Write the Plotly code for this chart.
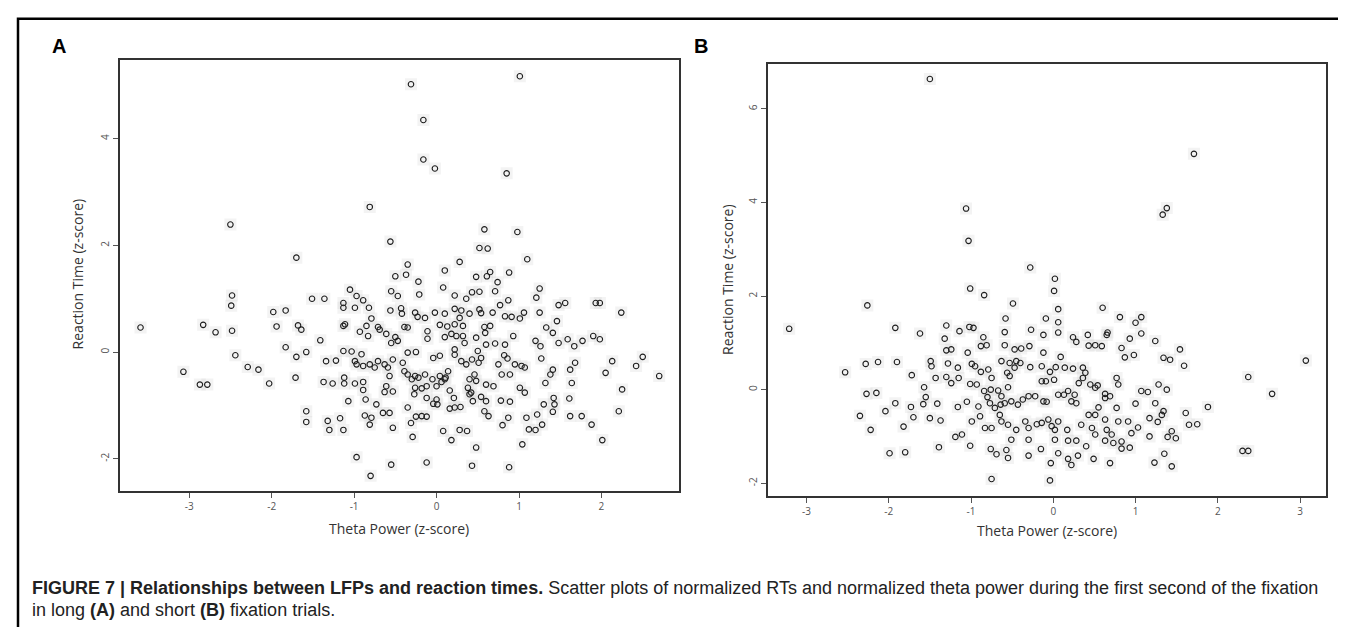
import plotly.graph_objects as go

# panel A: long fixation trials (theta power z, reaction time z)
theta_a = [
    -3.59, -1.70, -2.48, -2.49, -2.83, -2.68, -2.48, -1.98, -1.83, -1.94, -1.68, -1.64, -1.83, -1.70, -1.58,
    -2.44, -2.29, -2.16, -3.07, -2.87, -2.78, -2.03, -1.71, -1.58, -1.58,
    0.58, 0.98, -0.56, 0.52, 0.62, 0.28, -0.35, 0.10, -0.37, -0.50, -0.22, 0.65, 0.61, 0.48, 0.88, 0.74, 0.71,
    1.10, 0.08, 0.43, 0.52, -0.21, 0.22, 0.36, -1.05, -1.51, -1.36, -0.97, -0.89, -0.55, -0.47, -1.13, -1.13,
    -0.99, -0.82, 0.87, 0.77, 1.06, -0.56, -0.43, -0.42, -0.26, -0.23, -0.14, -0.02, 0.10, 0.22, 0.30, 0.28,
    0.40, 0.52, 0.54, 0.68, 0.83, 0.91, 1.01, -0.79, -1.11, -1.13, -0.85, -0.71, -0.69, -0.93, -0.83, -0.61,
    -0.50, -0.55, -0.47, -0.39, -0.35, -0.11, -0.11, 0.04, 0.13, 0.22, 0.32, 0.10, 0.18, 0.24, 0.32, 0.34,
    0.58, 0.65, 0.59, 0.48, 0.93, 0.22, 0.22, -0.25, -0.35, -0.04, 0.04, 0.60, 0.71, 0.83, 0.82, 0.86, 0.50,
    -1.13, -1.03, -0.91, -1.34, -1.22, -0.99, -0.97, -0.89, -0.81, -0.75, -0.71, -0.63, -0.53, -0.41, -0.39,
    -0.35, -0.26, -0.30, -0.22, -0.14, -0.05, 0.04, 0.11, 0.14, 0.30, 0.36, 0.43, 0.51, 0.54, 0.46, 0.40,
    0.48, 0.75, 0.79, 0.89, 0.95, 1.03, 1.07, 0.60, 0.69, 1.01, 1.07, -0.59, -0.57, -1.37, -1.26, -1.12,
    -1.12, -0.99, -0.89, -0.89, -0.61, -0.63, -0.53, -0.26, -0.27, -0.18, -0.12, 0.00, 0.06, 0.10, 0.16,
    0.38, 0.40, 0.42, -0.12, 0.00, 0.01, -0.04, 0.21, 0.22, 0.16, 0.29, 0.44, 0.54, 0.60, 0.78, 0.89, -1.07,
    -0.86, -0.73, -0.35, 0.58, 0.63, -0.65, -0.57, -0.87, -0.79, -0.25, -0.18, -0.12, -1.32, -1.17, -0.81,
    0.87, 1.09, 0.80, -1.30, -1.13, -0.53, -0.31, 0.08, 0.28, 0.37, -0.29, 0.18, 1.04, 0.48, -0.97, -0.55,
    -0.12, 0.43, 0.88, -0.80, -1.41,
    -0.31, 1.01, -0.16, -0.16, -0.02, 0.85, -0.81, -2.50,
    1.25, 1.21, 1.93, 1.98, 1.48, 1.56, 2.24, 1.25, 1.46,
    1.33, 1.41, 1.48, 1.59, 1.77, 1.90, 1.98, 1.67, 1.20, 1.26, 1.27, 1.41, 1.38, 1.62, 1.68, 1.64, 1.32,
    2.13, 2.05, 2.25, 2.21, 2.50, 2.42, 2.70, 1.30, 1.42, 1.43, 1.41, 1.61, 1.62, 1.76, 1.22, 1.28, 1.12,
    1.20, 1.88, 2.01,
]
rt_a = [
    0.46, 1.77, 1.06, 0.87, 0.51, 0.37, 0.40, 0.75, 0.78, 0.48, 0.50, 0.42, 0.09, -0.09, 0.00,
    -0.06, -0.28, -0.33, -0.37, -0.61, -0.61, -0.59, -0.48, -1.11, -1.31,
    2.30, 2.25, 2.07, 1.95, 1.94, 1.69, 1.64, 1.53, 1.45, 1.42, 1.32, 1.50, 1.42, 1.41, 1.49, 1.31, 1.14,
    1.74, 1.21, 1.12, 1.13, 1.08, 1.06, 1.00, 1.17, 1.00, 1.00, 1.05, 0.97, 1.14, 1.05, 0.92, 0.83,
    0.83, 0.83, 0.97, 0.88, 0.74, 0.78, 0.82, 0.72, 0.74, 0.66, 0.64, 0.74, 0.72, 0.81, 0.78, 0.64,
    0.72, 0.80, 0.73, 0.74, 0.67, 0.66, 0.63, 0.63, 0.52, 0.49, 0.49, 0.47, 0.42, 0.38, 0.30, 0.34,
    0.28, 0.17, 0.21, 0.47, 0.46, 0.39, 0.25, 0.51, 0.48, 0.52, 0.49, 0.28, 0.34, 0.30, 0.30, 0.17,
    0.47, 0.49, 0.36, 0.27, 0.30, 0.05, -0.05, 0.00, -0.01, -0.11, -0.07, 0.14, 0.16, 0.14, -0.06, -0.12, 0.02,
    0.02, 0.01, -0.04, -0.17, -0.16, -0.17, -0.23, -0.26, -0.23, -0.29, -0.17, -0.23, -0.14, -0.20, -0.36,
    -0.42, -0.45, -0.51, -0.48, -0.42, -0.51, -0.45, -0.48, -0.36, -0.17, -0.23, -0.14, -0.20, -0.11, -0.42, -0.51,
    -0.54, -0.23, -0.42, -0.42, -0.23, -0.26, -0.29, -0.61, -0.64, -0.67, -0.76, -0.29, -0.45, -0.56, -0.59, -0.48,
    -0.59, -0.59, -0.56, -0.71, -0.64, -0.75, -0.74, -0.67, -0.79, -0.68, -0.64, -0.64, -0.56, -0.51, -0.72,
    -0.67, -0.79, -0.76, -0.86, -0.89, -0.98, -0.97, -0.86, -1.04, -1.06, -1.03, -0.92, -0.84, -0.92, -0.91, -0.93, -0.92,
    -0.89, -0.98, -1.04, -1.11, -1.20, -1.14, -1.14, -1.19, -1.23, -1.21, -1.20, -1.21, -1.29, -1.24, -1.36,
    -1.23, -1.23, -1.37, -1.46, -1.46, -1.42, -1.33, -1.48, -1.46, -1.48, -1.59, -1.65, -1.73, -1.79, -1.97, -2.11,
    -2.07, -2.13, -2.16, -2.32, 0.22,
    5.02, 5.17, 4.35, 3.61, 3.44, 3.35, 2.72, 2.39,
    1.19, 1.02, 0.92, 0.92, 0.88, 0.92, 0.74, 0.74, 0.58,
    0.46, 0.36, 0.17, 0.24, 0.21, 0.30, 0.24, 0.11, 0.21, 0.11, -0.12, -0.33, -0.42, -0.33, -0.20, -0.58, -0.58,
    -0.17, -0.39, -0.70, -1.11, -0.09, -0.26, -0.45, -0.98, -0.86, -0.98, -1.12, -0.87, -1.20, -1.20, -1.17, -1.36, -1.45,
    -1.46, -1.36, -1.65,
]

# panel B: short fixation trials
theta_b = [
    -3.21, -2.26, -1.92, -1.62, -1.30, -1.32, -1.30, -1.24, -1.14, -2.53, -2.28, -2.13, -1.90, -1.49, -1.48,
    -1.28, -1.16, -1.72, -1.43, -1.30, -1.24, -1.15, -1.57, -1.55, -2.27, -2.15, -1.92, -1.73, -1.58, -1.41,
    -1.16, -2.04, -2.35, -1.70, -1.50, -1.37, -2.22, -1.82, -1.19, -1.39, -1.99, -1.80,
    -0.28, 0.02, -1.01, -0.84, 0.01, -0.49, 0.60, 0.06, -0.58, -0.09, 0.06, 0.81, 1.07, 1.00, -1.02, -0.97,
    -0.27, -0.59, -0.12, 0.06, 0.24, 0.28, 0.42, 0.43, 0.51, 0.59, 0.65, 0.66, 0.93, 1.07, 1.24, -0.85,
    -0.88, -0.81, -0.59, -0.47, -0.39, -0.29, -0.12, -1.04, 0.09, 0.83, 0.98, 0.87, 1.34, 1.42, -0.99,
    -0.95, -0.88, -0.79, -0.75, -0.63, -0.53, -0.45, -0.56, -0.53, -0.47, -0.40, -0.28, -0.14, -0.04, 0.03,
    0.14, 0.24, 0.36, 0.39, 0.36, -0.14, -0.09, 0.01, 0.31, 0.45, 0.51, 0.63, 0.54, -1.01, -0.93, -0.84,
    -0.76, -0.80, -0.67, -0.63, -0.55, 0.77, 0.79, 1.07, 1.15, 1.28, 1.38, -0.30, -0.22, -0.12, -0.08,
    0.06, 0.13, 0.18, 0.22, 0.28, 0.26, 0.55, 0.77, 0.63, 0.69, -1.05, -0.91, -0.77, -0.71, -0.64, -0.59,
    -0.51, -0.43, -0.37, 1.00, 1.24, 1.34, 1.32, -0.99, -0.89, -0.83, -0.75, -0.65, -0.63, -0.55, -0.45,
    -0.34, -0.30, -0.20, -0.14, -0.06, -0.02, 0.02, 0.06, 0.17, 0.34, 0.43, 0.51, 0.47, 0.51, 0.63, 0.65,
    0.71, 0.79, 0.91, 0.95, 1.03, 1.17, 1.27, -1.11, -0.51, -0.30, 0.02, 0.18, 0.28, 0.63, 0.73, 0.83,
    0.83, 0.93, 1.17, 1.39, 1.44, -1.01, -0.76, -0.69, -0.57, -0.55, -0.30, -0.15, -0.03, 0.06, 0.18,
    0.22, 0.30, 0.40, 0.49, 0.69, 1.23, 1.35, 1.44, -0.75, -0.04,
    -1.50, 1.71, -1.06, 1.33, 1.38, -1.03, 3.07, 2.37, 2.66, 2.30, 2.37, 1.88, 1.61, 1.65, 1.75, 1.54,
    1.59, 1.49,
]
rt_b = [
    1.30, 1.80, 1.32, 1.20, 1.37, 1.09, 0.84, 0.86, 1.25, 0.37, 0.55, 0.59, 0.59, 0.61, 0.50,
    0.56, 0.47, 0.31, 0.25, 0.27, 0.14, 0.25, 0.05, -0.16, -0.09, -0.07, -0.29, -0.37, -0.31, -0.30,
    -0.37, -0.46, -0.56, -0.59, -0.61, -0.66, -0.86, -0.79, -1.01, -1.23, -1.36, -1.34,
    2.61, 2.37, 2.16, 2.02, 2.11, 1.84, 1.75, 1.72, 1.52, 1.52, 1.44, 1.55, 1.55, 1.43, 1.34, 1.32,
    1.28, 1.23, 1.17, 1.22, 1.12, 1.02, 1.17, 0.94, 0.95, 0.93, 1.17, 1.22, 1.09, 1.20, 1.04, 1.12,
    0.93, 0.95, 0.95, 0.86, 0.88, 0.93, 0.79, 0.79, 0.70, 0.89, 0.74, 0.69, 0.68, 0.64, 0.55,
    0.50, 0.38, 0.43, 0.25, 0.61, 0.57, 0.61, 0.36, 0.29, 0.47, 0.57, 0.48, 0.50, 0.38, 0.48,
    0.47, 0.45, 0.47, 0.36, 0.25, 0.18, 0.18, 0.21, 0.14, 0.11, 0.04, -0.09, 0.09, 0.12, 0.11, -0.03,
    0.00, -0.16, -0.02, -0.14, 0.05, 0.25, 0.11, -0.03, -0.05, 0.11, 0.00, -0.14, -0.14, -0.25, -0.26,
    -0.11, -0.11, -0.03, -0.25, -0.29, -0.11, -0.38, -0.39, -0.18, -0.14, -0.26, -0.36, -0.29, -0.39, -0.32, -0.29,
    -0.25, -0.32, -0.21, -0.30, -0.29, -0.46, -0.54, -0.68, -0.57, -0.82, -0.82, -0.54, -0.68, -0.75, -0.86,
    -0.68, -0.82, -0.74, -0.71, -0.64, -0.78, -0.86, -0.68, -0.86, -0.75, -0.54, -0.54, -0.82, -0.96, -0.64, -0.86,
    -0.96, -0.68, -0.68, -0.93, -0.81, -0.61, -0.69, -0.96, -1.07, -1.07, -1.07, -1.09, -1.09, -1.09, -1.14, -1.11,
    -1.26, -1.24, -1.00, -1.01, -0.89, -1.20, -1.27, -1.38, -1.29, -1.46, -1.41, -1.27, -1.57, -1.36, -1.48,
    -1.61, -1.41, -1.21, -1.48, -1.57, -1.56, -1.37, -1.64, -1.91, -1.94,
    6.64, 5.04, 3.87, 3.74, 3.88, 3.18, 0.62, 0.27, -0.09, -1.31, -1.31, -0.37, -0.50, -0.75, -0.74, 0.86,
    0.51, -1.04,
]

ticks_a_x = [-3, -2, -1, 0, 1, 2]
ticks_a_y = [-2, 0, 2, 4]
ticks_b_x = [-3, -2, -1, 0, 1, 2, 3]
ticks_b_y = [-2, 0, 2, 4, 6]

W, H = 1346, 627
axis_font = "Open Sans, Liberation Sans, sans-serif"

fig = go.Figure()

# faint grey blur round each point (as in the scanned figure), then the open circles
halo = dict(symbol="square", size=12, color="rgba(200,200,200,0.22)", line=dict(width=0))
marker = dict(symbol="circle-open", size=5.5, color="#1e1e1e", line=dict(width=1.1, color="#1e1e1e"))
for xs, ys, xa, ya in [(theta_a, rt_a, "x", "y"), (theta_b, rt_b, "x2", "y2")]:
    fig.add_trace(go.Scatter(x=xs, y=ys, mode="markers", marker=halo, xaxis=xa, yaxis=ya,
                             showlegend=False, hoverinfo="skip"))
    fig.add_trace(go.Scatter(x=xs, y=ys, mode="markers", marker=marker, xaxis=xa, yaxis=ya,
                             showlegend=False, hoverinfo="skip"))


def ax(domain, rng, vals, angle=0):
    return dict(domain=domain, range=rng, tickvals=vals, ticktext=[str(v) for v in vals],
                tickangle=angle, ticks="outside", ticklen=5, tickwidth=1, tickcolor="#555",
                tickfont=dict(family=axis_font, size=10, color="#555"),
                showline=True, mirror=True, linecolor="#333", linewidth=1.5,
                showgrid=False, zeroline=False, fixedrange=True)


fig.update_layout(
    width=W, height=H, autosize=False,
    margin=dict(l=0, r=0, t=0, b=0),
    paper_bgcolor="white", plot_bgcolor="white",
    xaxis=ax([111.9 / W, 671 / W], [-3.84, 2.94], ticks_a_x),
    yaxis=ax([1 - 483.3 / H, 1 - 51.7 / H], [-2.61, 5.48], ticks_a_y, -90),
    xaxis2=dict(ax([759.8 / W, 1318.4 / W], [-3.47, 3.32], ticks_b_x), anchor="y2"),
    yaxis2=dict(ax([1 - 488.3 / H, 1 - 56 / H], [-2.28, 6.96], ticks_b_y, -90), anchor="x2"),
)

# outer frame (right and bottom edges run off the page)
fig.add_shape(type="rect", xref="paper", yref="paper",
              x0=10 / W, x1=1.02, y0=-0.1, y1=1 - 10.7 / H,
              line=dict(color="black", width=2.5))

lab = dict(family=axis_font, size=14, color="#333")
notes = [
    dict(x=(111.9 + 671) / 2 / W, y=1 - 520 / H, text="Theta Power (z-score)", font=lab),
    dict(x=(759.8 + 1318.4) / 2 / W, y=1 - 522 / H, text="Theta Power (z-score)", font=lab),
    dict(x=69.4 / W, y=1 - 266 / H, text="Reaction Time (z-score)", font=lab, textangle=-90),
    dict(x=719 / W, y=1 - 272 / H, text="Reaction Time (z-score)", font=lab, textangle=-90),
    dict(x=50.7 / W, y=1 - 38.3 / H, text="<b>A</b>",
         font=dict(family="Liberation Sans, Arial", size=20, color="black")),
    dict(x=692.8 / W, y=1 - 38 / H, text="<b>B</b>",
         font=dict(family="Liberation Sans, Arial", size=20, color="black")),
]
for n in notes:
    fig.add_annotation(xref="paper", yref="paper", showarrow=False, xanchor="center", yanchor="middle", **n)

cap = dict(family="Liberation Sans, Arial", size=18, color="#222")
fig.add_annotation(xref="paper", yref="paper", x=22 / W, y=1 - 580 / H, xanchor="left", yanchor="middle",
                   showarrow=False, font=cap,
                   text="<b>FIGURE 7 | Relationships between LFPs and reaction times.</b> Scatter plots of "
                        "normalized RTs and normalized theta power during the first second of the fixation")
fig.add_annotation(xref="paper", yref="paper", x=22 / W, y=1 - 602 / H, xanchor="left", yanchor="middle",
                   showarrow=False, font=cap,
                   text="in long <b>(A)</b> and short <b>(B)</b> fixation trials.")

fig.write_html("out.html")
